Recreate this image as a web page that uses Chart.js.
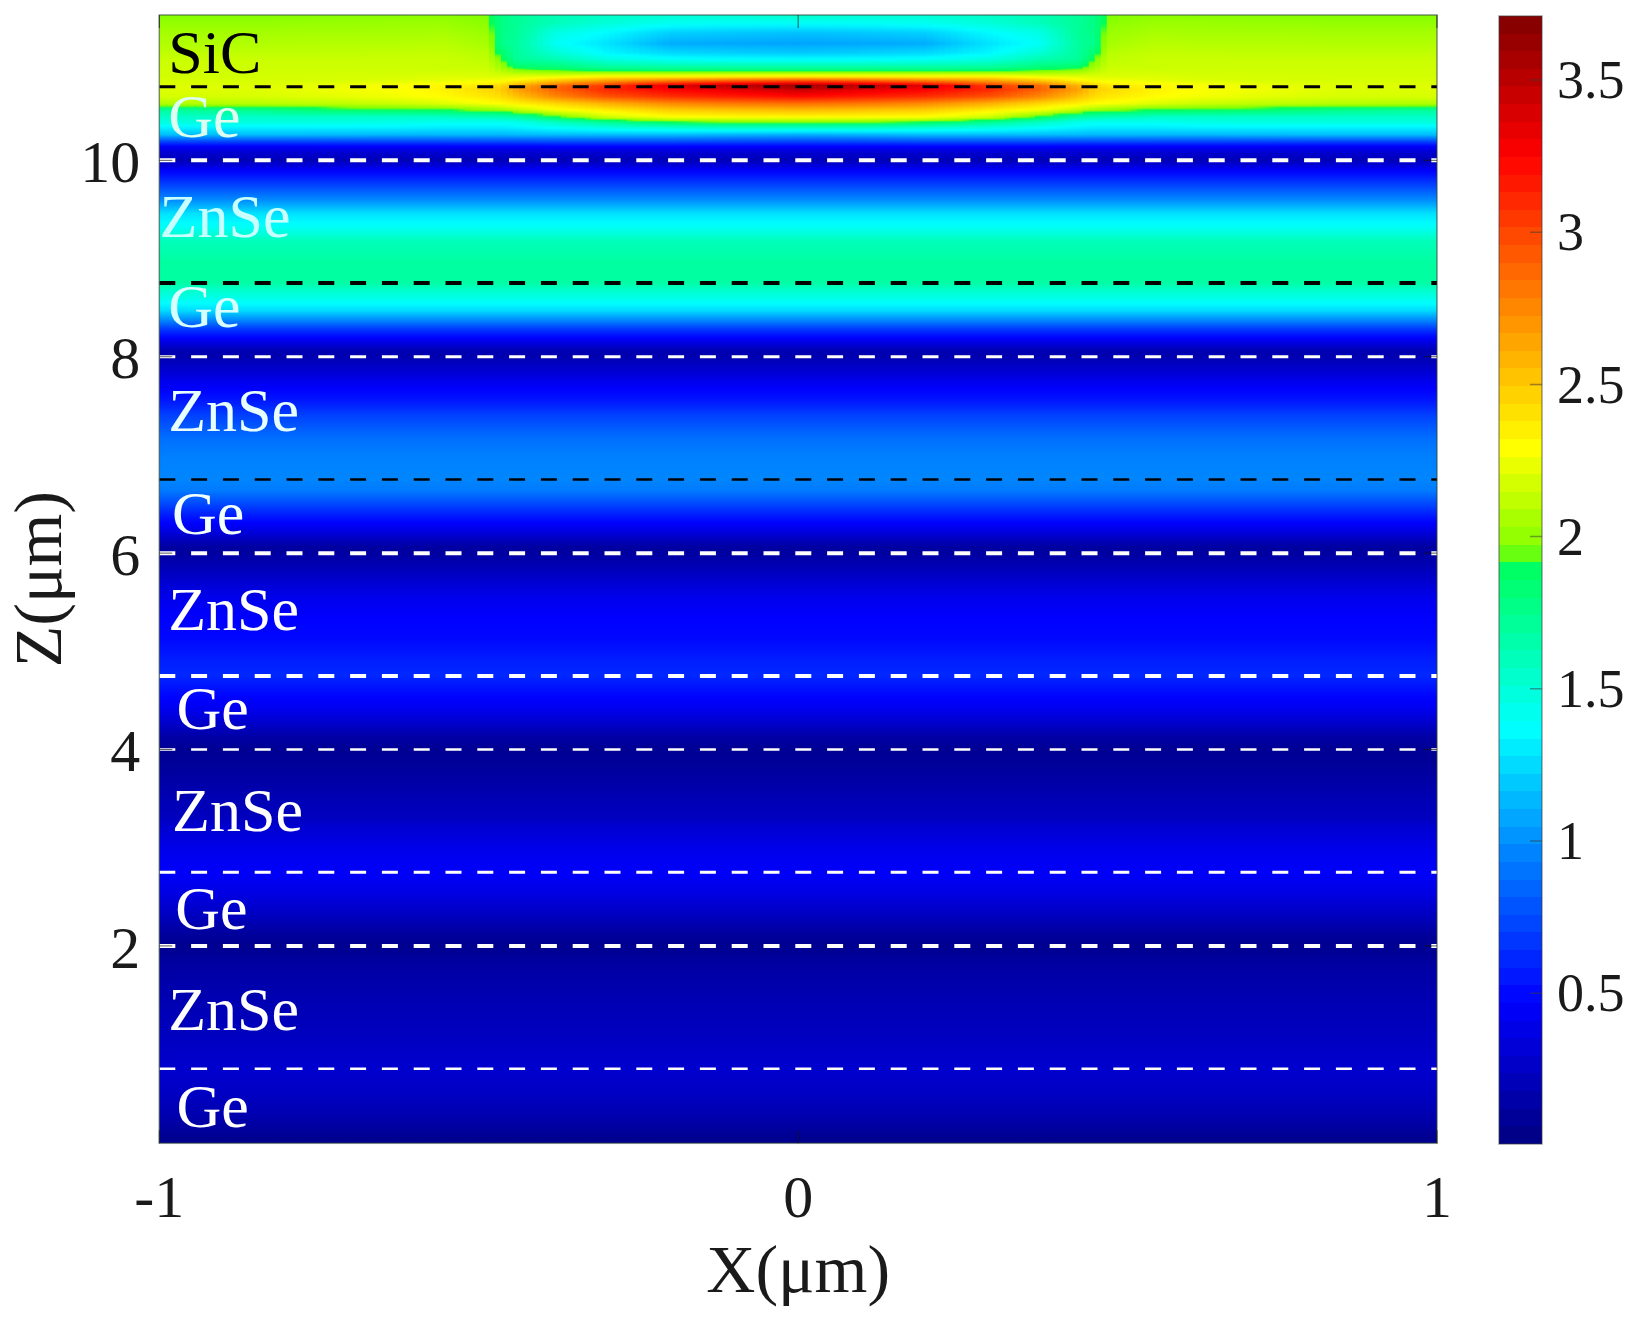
<!doctype html>

<html lang="en">
<head>
	<meta charset="utf-8">
	<title>Field profile</title>
	<style>
		body { margin:0; background:#fff; }
		#wrap { position:relative; width:1634px; height:1323px; }
		canvas { position:absolute; top:0; display:block; }
	</style>
</head>

<body>
	<div id="wrap">
		<canvas id="fieldChart" width="1634" height="1323" style="left:0"></canvas>
		<canvas id="colorbarChart" width="154" height="1323" style="left:1480px"></canvas>
	</div>
	<script src="https://cdn.jsdelivr.net/npm/chart.js@4/dist/chart.umd.min.js"></script>
	<script>
		// field. Below z = 10 it does not change with x
		var lowerZ = [-0.01,0.04,0.26,0.5,0.75,1.35,1.75,2.0,2.13,2.3,2.54,2.74,2.97,3.21,3.31,3.52,3.82,4.0,4.13,4.27,4.43,4.6,4.76,4.91,5.12,5.32,5.55,5.86,6.0,6.06,6.16,6.27,6.37,6.51,6.64,6.76,6.98,7.18,7.39,7.56,7.73,7.9,8.01,8.07,8.17,8.27,8.37,8.47,8.58,8.68,8.76,8.95,9.18,9.32,9.46,9.59,9.77,9.9];
		var lowerField = [0.05,0.06,0.17,0.25,0.29,0.2,0.14,0.06,0.11,0.23,0.37,0.45,0.4,0.3,0.23,0.19,0.1,0.07,0.14,0.28,0.42,0.52,0.62,0.58,0.5,0.47,0.4,0.2,0.12,0.12,0.26,0.42,0.55,0.75,0.93,0.97,0.95,0.88,0.72,0.55,0.42,0.26,0.17,0.2,0.42,0.65,0.97,1.25,1.42,1.55,1.68,1.69,1.6,1.4,1.27,1.0,0.68,0.45];

		// above z = 10 the field depends on |x|; one row per entry of upperZ
		var upperX = [0,0.1,0.2,0.3,0.38,0.44,0.465,0.485,0.56,0.63,0.72,0.85,1];
		var upperZ = [10,10.08,10.14,10.19,10.26,10.33,10.39,10.44,10.51,10.58,10.65,10.72,10.76,10.82,10.85,10.9,10.94,11.02,11.09,11.19,11.3,11.4,11.48];
		var upperField = [
			[0.2,0.2,0.2,0.2,0.2,0.2,0.2,0.2,0.2,0.2,0.2,0.2,0.2],
			[0.3,0.3,0.3,0.3,0.3,0.3,0.3,0.3,0.3,0.3,0.3,0.3,0.3],
			[0.47,0.47,0.47,0.47,0.47,0.46,0.46,0.46,0.46,0.46,0.46,0.45,0.45],
			[0.72,0.73,0.75,0.75,0.75,0.74,0.74,0.74,0.73,0.73,0.72,0.72,0.72],
			[1.1,1.12,1.15,1.15,1.15,1.14,1.13,1.13,1.13,1.13,1.14,1.15,1.15],
			[1.55,1.55,1.5,1.45,1.38,1.32,1.3,1.3,1.3,1.32,1.32,1.32,1.32],
			[1.98,1.96,1.92,1.75,1.58,1.45,1.42,1.42,1.42,1.45,1.47,1.48,1.48],
			[2.3,2.3,2.28,2.15,1.9,1.65,1.62,1.6,1.55,1.55,1.55,1.55,1.55],
			[2.55,2.52,2.48,2.35,2.25,2.1,2.02,1.98,1.9,1.88,1.85,1.75,1.7],
			[2.85,2.82,2.75,2.6,2.45,2.35,2.3,2.28,2.2,2.15,2.12,2.1,2.08],
			[3.22,3.15,3.08,2.95,2.75,2.52,2.42,2.38,2.3,2.26,2.22,2.18,2.18],
			[3.45,3.35,3.25,3.1,2.88,2.65,2.48,2.44,2.33,2.28,2.25,2.2,2.2],
			[3.6,3.5,3.35,3.05,2.85,2.58,2.45,2.38,2.32,2.28,2.24,2.2,2.2],
			[2.85,2.8,2.7,2.6,2.45,2.3,2.25,2.25,2.22,2.2,2.18,2.18,2.18],
			[2.4,2.38,2.35,2.35,2.25,2.22,2.2,2.2,2.2,2.18,2.18,2.17,2.17],
			[1.95,1.95,1.95,1.98,2.0,2.05,2.12,2.17,2.17,2.17,2.17,2.17,2.17],
			[1.72,1.72,1.72,1.74,1.85,1.9,2.05,2.15,2.15,2.16,2.16,2.16,2.16],
			[1.4,1.4,1.42,1.5,1.65,1.72,1.96,2.12,2.15,2.15,2.15,2.15,2.15],
			[1.2,1.22,1.25,1.35,1.52,1.7,1.86,2.1,2.13,2.13,2.12,2.12,2.12],
			[1.07,1.08,1.1,1.28,1.4,1.7,1.76,2.05,2.1,2.09,2.09,2.08,2.08],
			[1.17,1.19,1.22,1.36,1.46,1.72,1.77,2.02,2.06,2.05,2.05,2.05,2.05],
			[1.4,1.4,1.42,1.5,1.6,1.72,1.78,1.98,2.02,2.02,2.01,2.0,2.0],
			[1.55,1.52,1.52,1.56,1.62,1.72,1.78,1.95,1.98,1.97,1.97,1.96,1.96]
		];

		var zMin = -0.01, zMax = 11.48;
		var xTicks = [-1,0,1];
		var zTicks = [2,4,6,8,10];
		var colorMin = 0.005, colorMax = 3.71;
		var colorTicks = [0.5,1,1.5,2,2.5,3,3.5];

		// colour scale
		var scaleValues = [0,0.47,0.95,1.37,1.92,1.95,2.29,2.78,3.25,3.71];
		var scaleRed = [0,0,0,0,0,128,255,255,255,128];
		var scaleGreen = [0,0,128,255,255,255,255,128,0,0];
		var scaleBlue = [128,255,255,255,90,0,0,0,0,0];

		var boundaryZ = [0.75,2,2.75,4,4.75,6,6.75,8,8.75,10,10.75];
		var boundaryColor = ["#fff","#fff","#fff","#fff","#fff","#fff","#000","#fff","#000","#fff","#000"];
		var boundaryWidth = [2.5,4,3,2.5,4,4,2.5,3,4,4,3];

		var layerNames = ["Ge","ZnSe","Ge","ZnSe","Ge","ZnSe","Ge","ZnSe","Ge","ZnSe","Ge","SiC"];
		var layerX = [-0.973,-0.986,-0.975,-0.98,-0.973,-0.986,-0.98,-0.986,-0.986,-0.9995,-0.986,-0.986];
		var layerZ = [0.325,1.305,2.335,3.335,4.375,5.385,6.365,7.405,8.465,9.385,10.4,11.06];
		var layerColor = ["#fff","#fff","#fff","#fff","#fff","#fff","#f2ffff","#e8ffff","#d8ffff","#c8ffff","#dcfff0","#000"];

		function toColor(v)
		{
			var i = 0;
			while (i < scaleValues.length - 2 && v > scaleValues[i + 1]) { i++; }
			var f = Math.max(0, Math.min(1, (v - scaleValues[i]) / (scaleValues[i + 1] - scaleValues[i])));
			return "rgb(" + Math.round(scaleRed[i] + (scaleRed[i + 1] - scaleRed[i]) * f) + ","
				+ Math.round(scaleGreen[i] + (scaleGreen[i + 1] - scaleGreen[i]) * f) + ","
				+ Math.round(scaleBlue[i] + (scaleBlue[i + 1] - scaleBlue[i]) * f) + ")";
		}

		// like shading interp: colours run smoothly between the values read above
		function upperAt(row, absX)
		{
			var i = 0;
			while (i < upperX.length - 2 && absX > upperX[i + 1]) { i++; }
			var f = (absX - upperX[i]) / (upperX[i + 1] - upperX[i]);
			return upperField[row][i] * (1 - f) + upperField[row][i + 1] * f;
		}

		function columnGradient(chart, x)
		{
			var yScale = chart.scales.y;
			var top = yScale.getPixelForValue(zMax), bottom = yScale.getPixelForValue(zMin);
			if (!isFinite(top) || !isFinite(bottom) || top === bottom) { return "transparent"; }
			var gradient = chart.ctx.createLinearGradient(0, bottom, 0, top);
			var zs = lowerZ.concat(upperZ);
			var vs = lowerField.concat(upperField.map(function(r, row) { return upperAt(row, Math.abs(x)); }));

			for (var i = 0; i < zs.length - 1; i++)
			{
				for (var s = 0; s < 3; s++)
				{
					var z = zs[i] + (zs[i + 1] - zs[i]) * s / 3;
					var v = vs[i] + (vs[i + 1] - vs[i]) * s / 3;
					gradient.addColorStop((yScale.getPixelForValue(z) - bottom) / (top - bottom), toColor(v));
				}
			}
			gradient.addColorStop(1, toColor(vs[vs.length - 1]));
			return gradient;
		}

		var columnCount = 213;
		var columns = [];
		for (var c = 0; c < columnCount; c++)
		{
			columns.push({ x:-1 + (c + 0.5) * 2 / columnCount, y:[zMin, zMax] });
		}

		var datasets = [{
			type:"bar",
			order:2,
			data:columns,
			barPercentage:1.1,
			categoryPercentage:1,
			backgroundColor:function(ctx)
			{
				if (ctx.dataIndex === undefined) { return "transparent"; }
				return columnGradient(ctx.chart, columns[ctx.dataIndex].x);
			}
		}];

		boundaryZ.forEach(function(z, i)
		{
			datasets.push({
				type:"line",
				order:1,
				data:[{ x:-1, y:z }, { x:1, y:z }],
				borderColor:boundaryColor[i],
				borderWidth:boundaryWidth[i],
				borderDash:[16,15.8],
				pointRadius:0
			});
		});

		var serif = "'Liberation Serif'";

		function noEdgePadding(scale)
		{
			scale.paddingTop = 0;
			scale.paddingBottom = 0;
			scale.paddingLeft = 0;
			scale.paddingRight = 0;
		}

		var framePlugin = {
			id:"frame",
			afterDatasetsDraw:function(chart)
			{
				var ctx = chart.ctx, a = chart.chartArea;
				ctx.save();
				ctx.strokeStyle = "rgba(50,70,60,0.6)";
				ctx.lineWidth = 1.5;
				ctx.strokeRect(a.left, a.top, a.right - a.left, a.bottom - a.top);
				ctx.strokeStyle = "rgba(20,20,20,0.7)";
				ctx.lineWidth = 1;
				ctx.beginPath();
				xTicks.forEach(function(v)
				{
					var p = chart.scales.x.getPixelForValue(v);
					ctx.moveTo(p, a.top); ctx.lineTo(p, a.top + 13);
					ctx.moveTo(p, a.bottom); ctx.lineTo(p, a.bottom - 13);
				});
				zTicks.forEach(function(v)
				{
					var p = chart.scales.y.getPixelForValue(v);
					ctx.moveTo(a.left, p); ctx.lineTo(a.left + 13, p);
					ctx.moveTo(a.right, p); ctx.lineTo(a.right - 13, p);
				});
				ctx.stroke();

				ctx.font = "62px " + serif;
				ctx.textAlign = "left";
				ctx.textBaseline = "middle";
				layerNames.forEach(function(name, i)
				{
					ctx.fillStyle = layerColor[i];
					ctx.fillText(name, chart.scales.x.getPixelForValue(layerX[i]), chart.scales.y.getPixelForValue(layerZ[i]));
				});
				ctx.restore();
			}
		};

		new Chart("fieldChart", {
			data:{ datasets:datasets },
			plugins:[framePlugin],
			options:{
				responsive:false,
				animation:false,
				events:[],
				layout:{ padding:{ top:15, right:197, left:0, bottom:0 } },
				plugins:{ legend:{ display:false }, tooltip:{ enabled:false } },
				scales:{
					x:{
						type:"linear",
						offset:false,
						min:-1,
						max:1,
						afterFit:function(scale) { scale.height = 179.7; noEdgePadding(scale); },
						afterBuildTicks:function(scale) { scale.ticks = xTicks.map(function(v) { return { value:v }; }); },
						grid:{ display:false, drawTicks:false },
						border:{ display:false },
						ticks:{ color:"#1a1a1a", padding:22, maxRotation:0, font:{ family:serif, size:60 }, callback:function(v) { return String(v); } },
						title:{ display:true, text:"X(μm)", color:"#1a1a1a", padding:{ top:0, bottom:8 }, font:{ family:serif, size:68 } }
					},
					y:{
						type:"linear",
						min:zMin,
						max:zMax,
						afterFit:function(scale) { scale.width = 159.3; noEdgePadding(scale); },
						afterBuildTicks:function(scale) { scale.ticks = zTicks.map(function(v) { return { value:v }; }); },
						grid:{ display:false, drawTicks:false },
						border:{ display:false },
						ticks:{ color:"#1a1a1a", padding:19, labelOffset:6, font:{ family:serif, size:60 }, callback:function(v) { return String(v); } },
						title:{ display:true, text:"Z(μm)", color:"#1a1a1a", padding:{ top:2, bottom:0 }, font:{ family:serif, size:68 } }
					}
				}
			}
		});

		// the colour bar uses 64 flat levels, as in the picture
		new Chart("colorbarChart", {
			type:"bar",
			data:{
				labels:[""],
				datasets:[{
					data:[[colorMin, colorMax]],
					barPercentage:1,
					categoryPercentage:1,
					backgroundColor:function(ctx)
					{
						var a = ctx.chart.chartArea;
						if (!a) { return "transparent"; }
						var gradient = ctx.chart.ctx.createLinearGradient(0, a.bottom, 0, a.top);
						for (var i = 0; i < 64; i++)
						{
							var level = toColor(colorMin + (colorMax - colorMin) * (i + 0.5) / 64);
							gradient.addColorStop(i / 64, level);
							gradient.addColorStop((i + 1) / 64, level);
						}
						return gradient;
					}
				}]
			},
			plugins:[{
				id:"colorbarFrame",
				afterDatasetsDraw:function(chart)
				{
					var ctx = chart.ctx, a = chart.chartArea;
					ctx.save();
					ctx.strokeStyle = "rgba(60,60,60,0.5)";
					ctx.lineWidth = 1.5;
					ctx.strokeRect(a.left, a.top, a.right - a.left, a.bottom - a.top);
					ctx.beginPath();
					colorTicks.forEach(function(v)
					{
						var p = chart.scales.y.getPixelForValue(v);
						ctx.moveTo(a.right, p);
						ctx.lineTo(a.right - 12, p);
					});
					ctx.stroke();
					ctx.restore();
				}
			}],
			options:{
				responsive:false,
				animation:false,
				events:[],
				layout:{ padding:{ top:16, left:19, bottom:179, right:0 } },
				plugins:{ legend:{ display:false }, tooltip:{ enabled:false } },
				scales:{
					x:{ display:false },
					y:{
						type:"linear",
						position:"right",
						min:colorMin,
						max:colorMax,
						afterFit:function(scale) { scale.width = 92; noEdgePadding(scale); },
						afterBuildTicks:function(scale) { scale.ticks = colorTicks.map(function(v) { return { value:v }; }); },
						grid:{ display:false, drawTicks:false },
						border:{ display:false },
						ticks:{ color:"#1a1a1a", padding:15, labelOffset:4, font:{ family:serif, size:54 }, callback:function(v) { return String(v); } }
					}
				}
			}
		});
	</script>
</body>
</html>
